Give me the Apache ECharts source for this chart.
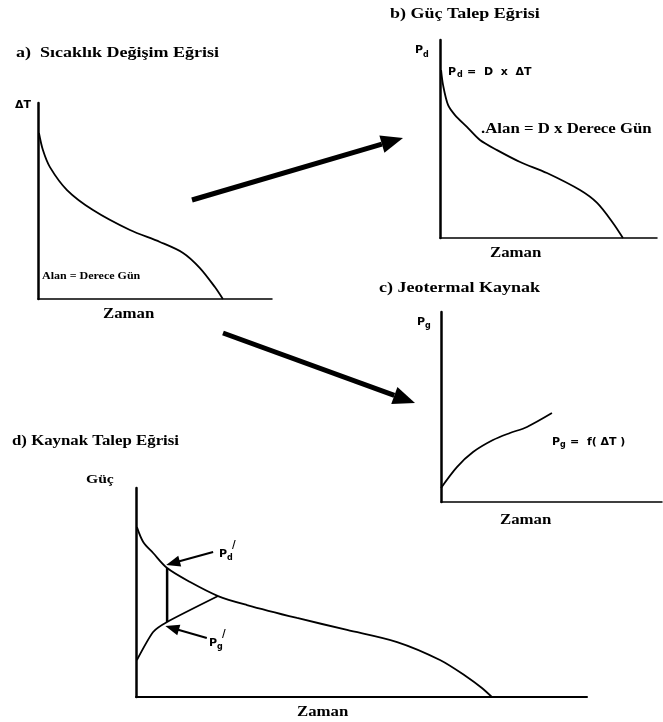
<!DOCTYPE html>
<html>
<head>
<meta charset="utf-8">
<script src="https://cdn.jsdelivr.net/npm/echarts@6/dist/echarts.min.js"></script>
<style>html,body{margin:0;background:#fff}#chart{width:663px;height:722px}</style>
</head>
<body>
<div id="chart"></div>
<script>
// a) Sicaklik degisim egrisi: time (% of axis) vs deltaT (% of axis)
const aTime   = [0.4, 2.1, 5.1, 12.4, 23.5, 39.3, 52.1, 62, 69.2, 75.6, 79];
const aDeltaT = [84.7, 76, 67.3, 55.6, 45.4, 35.2, 29.1, 23.5, 15.8, 6.1, 0];
// b) Guc talep egrisi
const bTime   = [0.5, 1.4, 3.7, 6.9, 12.4, 18.4, 26.3, 36.9, 49.3, 64.5, 72.4, 79.7, 84.3];
const bDemand = [84.8, 77.3, 67.2, 62.1, 56.1, 49.5, 44.4, 38.4, 32.8, 24.2, 17.7, 7.6, 0];
// c) Jeotermal kaynak
const cTime   = [0, 7.2, 14.5, 23.5, 31.2, 38.9, 50.2];
const cSource = [7.4, 18.4, 26.3, 32.6, 36.3, 39.5, 46.8];
// d) Kaynak talep egrisi
const dTime    = [0.2, 1.6, 3.8, 6.9, 12, 18.2, 24.6, 35.7, 46.8, 57.9, 67.4, 73.4, 76.7, 78.9];
const dDemand  = [81.3, 74.2, 68.9, 61.7, 55, 48.3, 44, 37.8, 32.1, 26.3, 17.7, 9.6, 4.3, 0];
const dSrcTime = [0.2, 3.8, 6.9, 18.2];
const dSource  = [17.7, 31.1, 35.9, 48.3];
const dCut = 6.9;   // where Pd' and Pg' are read
// pointer arrows in d (tail, head)
const pdArrow = [[17.1, 69.4], [8.2, 64.1]];
const pgArrow = [[15.7, 28.2], [8.0, 33.0]];

const zip = (xs, ys) => xs.map((x, i) => [x, ys[i]]);
const serif = '"Liberation Serif", "DejaVu Serif", serif';

const grids = [
  { left: 38,  top: 103, width: 234, height: 196 },
  { left: 440, top: 40,  width: 217, height: 198 },
  { left: 441, top: 312, width: 221, height: 190 },
  { left: 136, top: 488, width: 451, height: 209 }
];

function axis(i, w) {
  return {
    gridIndex: i, type: 'value', min: 0, max: 100,
    axisLine: { lineStyle: { color: '#000', width: w } },
    axisTick: { show: false }, axisLabel: { show: false }, splitLine: { show: false }
  };
}

function curve(i, data) {
  return {
    type: 'line', xAxisIndex: i, yAxisIndex: i, data: data,
    smooth: 0.3, showSymbol: false, silent: true,
    lineStyle: { color: '#000', width: 1.8 }
  };
}

function txt(x, y, text, size, opts) {
  opts = opts || {};
  return {
    type: 'text', x: x, y: y, scaleX: opts.sx || 1.2, silent: true,
    style: {
      text: text, fill: '#000', fontSize: size,
      fontFamily: opts.font || serif, fontWeight: 'bold',
      verticalAlign: 'middle', align: 'left'
    }
  };
}

// big arrow between panels
function bigArrow(x1, y1, x2, y2) {
  const len = Math.hypot(x2 - x1, y2 - y1);
  const ux = (x2 - x1) / len, uy = (y2 - y1) / len;
  const hl = 22, hw = 9;
  const bx = x2 - ux * hl, by = y2 - uy * hl;
  return [
    { type: 'line', silent: true, shape: { x1: x1, y1: y1, x2: bx, y2: by },
      style: { stroke: '#000', lineWidth: 5 } },
    { type: 'polygon', silent: true,
      shape: { points: [[x2, y2], [bx - uy * hw, by + ux * hw], [bx + uy * hw, by - ux * hw]] },
      style: { fill: '#000' } }
  ];
}

const sans = '"DejaVu Sans", sans-serif';
const graphic = [].concat(
  bigArrow(192, 200, 403, 138),
  bigArrow(223, 333, 415, 403),
  [
    txt(16, 53, 'a)  Sıcaklık Değişim Eğrisi', 15),
    txt(390, 14, 'b) Güç Talep Eğrisi', 15),
    txt(379, 288, 'c) Jeotermal Kaynak', 15),
    txt(12, 441, 'd) Kaynak Talep Eğrisi', 14),
    txt(103, 314, 'Zaman', 14),
    txt(490, 253, 'Zaman', 14),
    txt(500, 520, 'Zaman', 14),
    txt(297, 712, 'Zaman', 14),
    txt(86, 480, 'Güç', 13),
    txt(15, 105, 'ΔT', 11, { font: sans, sx: 1 }),
    txt(42, 276, 'Alan = Derece Gün', 10),
    txt(481, 129, '.Alan = D x Derece Gün', 14),
    // y-axis symbols
    txt(415, 50, 'P', 11, { font: sans, sx: 1 }),
    txt(423, 55, 'd', 8, { font: sans, sx: 1 }),
    txt(417, 322, 'P', 11, { font: sans, sx: 1 }),
    txt(425, 326, 'g', 8, { font: sans, sx: 1 }),
    // formulas
    txt(448, 72, 'P', 11, { font: sans, sx: 1 }),
    txt(457, 75, 'd', 8, { font: sans, sx: 1 }),
    txt(467, 72, '=  D  x  ΔT', 11, { font: sans, sx: 1 }),
    txt(552, 442, 'P', 11, { font: sans, sx: 1 }),
    txt(560, 445, 'g', 8, { font: sans, sx: 1 }),
    txt(570, 442, '=  f( ΔT )', 11, { font: sans, sx: 1 }),
    // primed labels in d
    txt(219, 554, 'P', 11, { font: sans, sx: 1 }),
    txt(227, 558, 'd', 8, { font: sans, sx: 1 }),
    txt(232, 545, '/', 10, { font: sans, sx: 1 }),
    txt(209, 643, 'P', 11, { font: sans, sx: 1 }),
    txt(217, 647, 'g', 8, { font: sans, sx: 1 }),
    txt(222, 634, '/', 10, { font: sans, sx: 1 })
  ]
);

const cutLow = dSource[dSrcTime.indexOf(dCut)];
const cutHigh = dDemand[dTime.indexOf(dCut)];

const chart = echarts.init(document.getElementById('chart'));
chart.setOption({
  animation: false,
  backgroundColor: '#fff',
  grid: grids,
  xAxis: [axis(0, 1.5), axis(1, 1.5), axis(2, 1.5), axis(3, 2)],
  yAxis: [axis(0, 2.5), axis(1, 2.5), axis(2, 2.5), axis(3, 2.5)],
  graphic: graphic,
  series: [
    curve(0, zip(aTime, aDeltaT)),
    curve(1, zip(bTime, bDemand)),
    curve(2, zip(cTime, cSource)),
    Object.assign(curve(3, zip(dTime, dDemand)), {
      markLine: {
        silent: true, symbol: ['none', 'triangle'], symbolSize: [11, 14],
        label: { show: false },
        lineStyle: { color: '#000', width: 2, type: 'solid' },
        data: [
          [{ coord: pdArrow[0] }, { coord: pdArrow[1] }],
          [{ coord: pgArrow[0] }, { coord: pgArrow[1] }]
        ]
      }
    }),
    Object.assign(curve(3, zip(dSrcTime, dSource)), { smooth: 0.2 }),
    Object.assign(curve(3, [[dCut, cutLow], [dCut, cutHigh]]), {
      smooth: false, lineStyle: { color: '#000', width: 2.5 }
    })
  ]
});
</script>
</body>
</html>
